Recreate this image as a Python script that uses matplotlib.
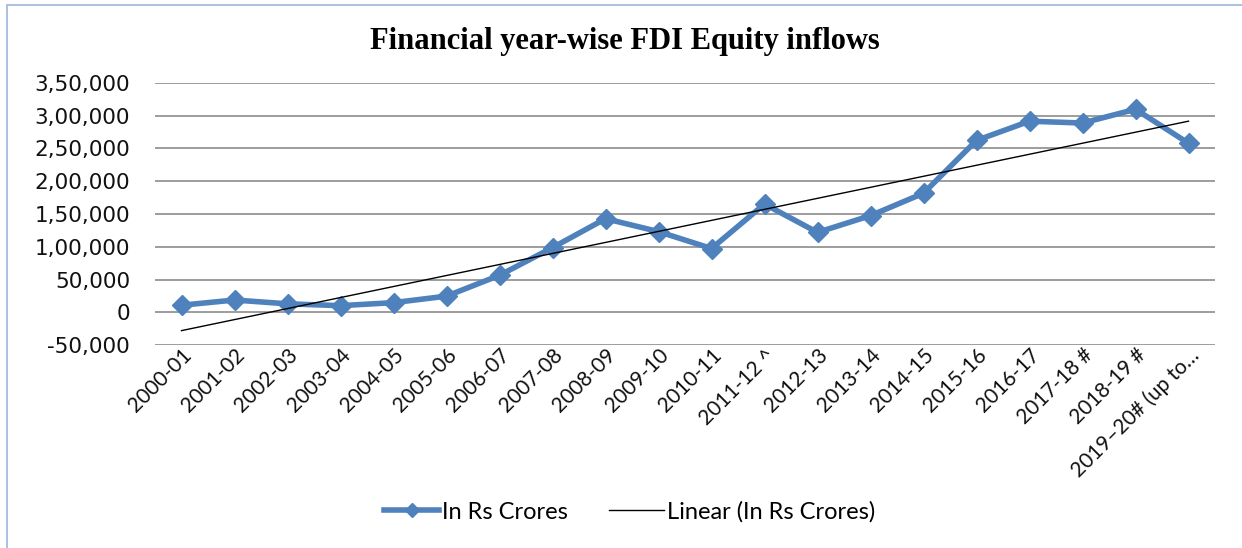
import numpy as np
import matplotlib
matplotlib.use("Agg")
import matplotlib.pyplot as plt
from matplotlib.patches import Rectangle
from matplotlib.ticker import FixedLocator
from matplotlib.transforms import ScaledTranslation

categories = ["2000-01", "2001-02", "2002-03", "2003-04", "2004-05", "2005-06",
              "2006-07", "2007-08", "2008-09", "2009-10", "2010-11", "2011-12 ^",
              "2012-13", "2013-14", "2014-15", "2015-16", "2016-17", "2017-18 #",
              "2018-19 #", "2019\u201320# (up to\u2026"]
fdi_values = [10733, 18654, 12871, 10064, 14653, 24584, 56390, 98642, 142829,
              123120, 97320, 165146, 121907, 147518, 181682, 262322, 291696,
              288889, 309867, 258000]
y_ticks = [-50000, 0, 50000, 100000, 150000, 200000, 250000, 300000, 350000]
y_tick_labels = ["-50,000", "0", "50,000", "1,00,000", "1,50,000", "2,00,000",
                 "2,50,000", "3,00,000", "3,50,000"]

W, H = 1242, 548
fig = plt.figure(figsize=(W / 100, H / 100), dpi=100)
fig.patches.append(Rectangle((7 / W, -0.1), 1.2, (H - 5) / H + 0.1,
                             transform=fig.transFigure, fill=False,
                             edgecolor="#9DB5DE", linewidth=1.2))

ax = fig.add_axes([155 / W, 1 - 345 / H, (1215 - 155) / W, (345 - 83) / H])
x = np.arange(len(categories))
ax.plot(x, fdi_values, color="#4F81BD", linewidth=4, marker="D", markersize=10,
        label="In Rs Crores", zorder=3)
coef = np.polyfit(x, fdi_values, 1)
ax.plot(x, np.polyval(coef, x), color="black", linewidth=1.0,
        label="Linear (In Rs Crores)", zorder=4)

ax.set_xlim(-0.5, len(categories) - 0.5)
ax.set_ylim(-50000, 350000)
ax.yaxis.set_major_locator(FixedLocator(y_ticks))
ax.set_yticklabels(y_tick_labels, fontsize=15.5, family="DejaVu Sans", color="#111111")
ax.set_xticks(x)
ax.set_xticklabels(categories, rotation=45, ha="right", rotation_mode="anchor",
                   fontsize=15, family="Lato", color="#111111")
shift = ScaledTranslation(7 / 100, 4 / 100, fig.dpi_scale_trans)
for lbl in ax.get_xticklabels():
    lbl.set_transform(lbl.get_transform() + shift)
ax.tick_params(axis="y", length=0, pad=18)
ax.tick_params(axis="x", length=0, pad=0)
ax.grid(axis="y", color="#8C8C8C", linewidth=1.2)
ax.set_axisbelow(True)
for s in ax.spines.values():
    s.set_visible(False)

fig.text(625 / W, 1 - 42 / H, "Financial year-wise FDI Equity inflows",
         ha="center", va="center", fontsize=22, fontweight="bold",
         family="Liberation Serif")

leg = fig.legend(loc="center", bbox_to_anchor=(630 / W, 1 - 512 / H), ncol=2,
                 frameon=False, handlelength=2.3, columnspacing=1.75,
                 handletextpad=0.15, markerscale=0.7,
                 prop={"family": "Lato", "size": 17})
fig.savefig("out.png", dpi=100)
